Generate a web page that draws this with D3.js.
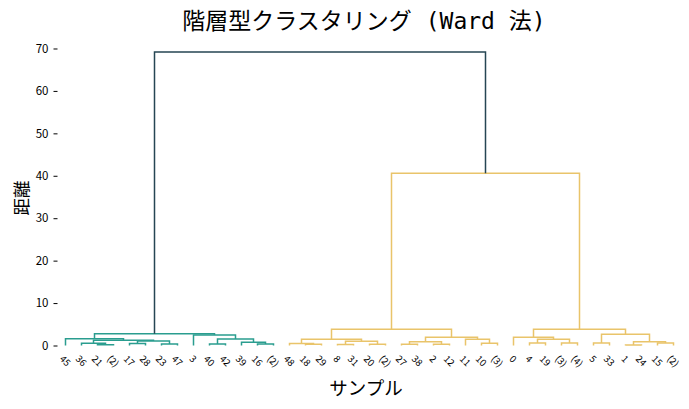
<!DOCTYPE html>
<html><head><meta charset="utf-8">
<script src="https://cdn.jsdelivr.net/npm/d3@7"></script>
<style>body{margin:0;background:#fff}svg{display:block}text{font-family:"Noto Sans CJK JP","Noto Sans",sans-serif}</style>
</head><body><svg id="c" width="689" height="409"></svg>
<script>
const leafLabels = ["45","36","21","(2)","17","28","23","47","3","40","42","39","16","(2)",
  "48","18","29","8","31","20","(2)","27","38","2","12","11","10","(3)",
  "0","4","19","(3)","(4)","5","33","1","24","15","(2)"];
// linkage rows: node ids < 39 are leaves (display order), others are 39 + row index
const mergeLeft  = [2,1,4,6,41,40,0,9,12,11,46,8,45, 15,14,17,19,54,53,21,23,58,26,25,60,57, 29,31,65,28,33,35,37,70,69,68, 64,51];
const mergeRight = [3,39,5,7,42,43,44,10,13,47,48,49,50, 16,52,18,20,55,56,22,24,59,27,61,62,63, 30,32,66,67,34,36,38,71,72,73, 74,75];
const mergeHeight= [0.2,0.55,0.5,0.35,1.05,1.25,1.6,0.35,0.35,0.75,1.55,2.45,2.75,
  0.3,0.45,0.25,0.3,1.0,1.45,0.3,0.3,0.9,0.55,1.45,1.95,3.85,
  0.6,0.6,1.5,1.95,0.6,0.1,0.6,0.9,2.65,3.85, 40.6,69.2];
const yTicks = [0,10,20,30,40,50,60,70];
const palette = ["#2a9d8f","#e9c46a"];
const aboveColor = "#264653";
const titleParts = [["階層型クラスタリング","cjk"],[" (Ward ","lat"],["法","cjk"],[")","lat"]];
const xLabel = "サンプル", yLabel = "距離";

const svg = d3.select("#c");
const nLeaf = leafLabels.length;
const maxH = d3.max(mergeHeight);
const x = d3.scaleLinear().domain([0, nLeaf*10]).range([57.5, 681.5]);
const y = d3.scaleLinear().domain([0, maxH*1.05]).range([345.5, 345.5 - maxH*1.05*4.243]);

const nx = [], nh = [];
for (let i=0;i<nLeaf;i++){ nx[i]=5+10*i; nh[i]=0; }
mergeHeight.forEach((h,k)=>{ const id=nLeaf+k; nx[id]=(nx[mergeLeft[k]]+nx[mergeRight[k]])/2; nh[id]=h; });
const thr = 0.7*maxH;
const col = [];
let ci = 0;
function paint(id, c){ if(id<nLeaf) return; const k=id-nLeaf; col[k]=c; paint(mergeLeft[k],c); paint(mergeRight[k],c); }
(function walk(id){ if(id<nLeaf) return; const k=id-nLeaf;
  if (nh[id] >= thr){ col[k]=aboveColor; walk(mergeLeft[k]); walk(mergeRight[k]); }
  else { paint(id, palette[ci++ % palette.length]); } })(nLeaf+mergeHeight.length-1);

const g = svg.append("g");
mergeHeight.forEach((h,k)=>{
  const a=mergeLeft[k], b=mergeRight[k];
  const p = d3.path();
  p.moveTo(x(nx[a]), y(nh[a])); p.lineTo(x(nx[a]), y(h)); p.lineTo(x(nx[b]), y(h)); p.lineTo(x(nx[b]), y(nh[b]));
  g.append("path").attr("d", p.toString()).attr("fill","none").attr("stroke", col[k]).attr("stroke-width",1.5);
});
g.selectAll("path").filter(function(){return d3.select(this).attr("stroke")===aboveColor;}).raise();

const ya = d3.axisLeft(y).tickValues(yTicks).tickFormat(d3.format("d")).tickSize(4).tickPadding(5);
const yg = svg.append("g").attr("transform","translate(57.5,0)").call(ya);
yg.select(".domain").remove();
yg.selectAll("text").attr("font-size",11.5).attr("fill","#000").style("font-family",'"Noto Sans CJK JP"');
yg.selectAll("line").attr("stroke","#000");

const lg = svg.append("g");
const lfs = 9.5;
leafLabels.forEach((t,i)=>{
  const tx = lg.append("text").text(t).attr("font-size",lfs).attr("fill","#000")
    .attr("text-anchor","middle").attr("dominant-baseline","central");
  const w = tx.node().getComputedTextLength();
  const half = (w + lfs*0.8)/(2*Math.SQRT2);
  tx.attr("transform", `translate(${x(5+10*i)},${354+half}) rotate(45)`);
});

const tt = svg.append("text").attr("x",364).attr("y",29).attr("text-anchor","middle").attr("font-size",23).attr("fill","#000");
titleParts.forEach(([s,f])=>{
  tt.append("tspan").text(s).style("font-family", f==="cjk" ? '"Noto Sans CJK JP"' : '"DejaVu Sans Mono"').attr("xml:space","preserve").style("white-space","pre");
});
svg.append("text").text(xLabel).attr("x",366).attr("y",395).attr("text-anchor","middle").attr("font-size",18.5).attr("fill","#000");
svg.append("text").text(yLabel).attr("transform","translate(27.5,198) rotate(-90)").attr("text-anchor","middle").attr("font-size",17.5).attr("fill","#000");
</script></body></html>
